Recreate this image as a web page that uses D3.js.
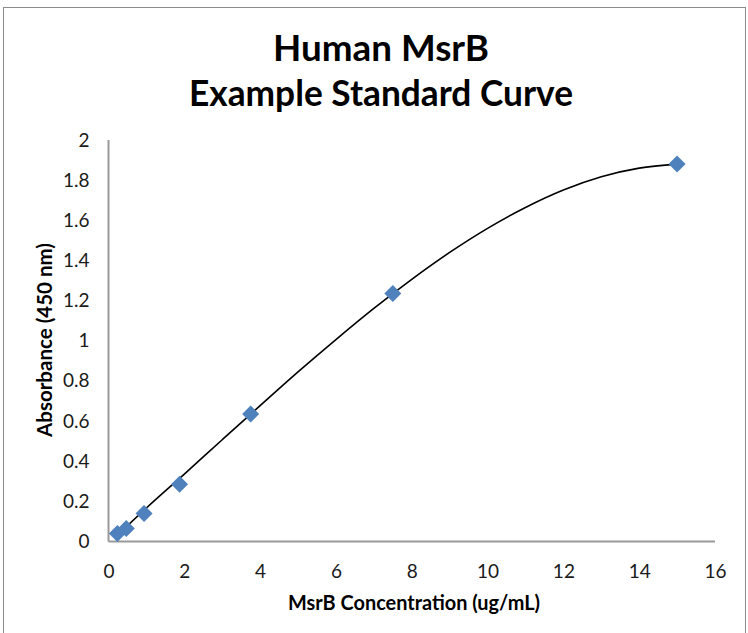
<!DOCTYPE html>
<html><head><meta charset="utf-8">
<script src="https://cdn.jsdelivr.net/npm/d3@7"></script>
<style>body{margin:0;background:#fff}svg{display:block}</style>
</head><body>
<script>
const concentrations = [0.234, 0.469, 0.938, 1.875, 3.75, 7.5, 15];
const absorbances = [0.04, 0.065, 0.14, 0.285, 0.635, 1.235, 1.88];
const curveX = [0.23, 1, 2, 3, 4, 5, 6, 7, 8, 9, 10, 11, 12, 13, 14, 15];
const curveY = [0.03, 0.167, 0.336, 0.507, 0.677, 0.845, 1.006, 1.161, 1.306, 1.44, 1.56, 1.664, 1.751, 1.817, 1.86, 1.88];
const xTicks = [0, 2, 4, 6, 8, 10, 12, 14, 16];
const yTicks = [0, 0.2, 0.4, 0.6, 0.8, 1, 1.2, 1.4, 1.6, 1.8, 2];
const titleLines = ["Human MsrB", "Example Standard Curve"];
const xTitle = "MsrB Concentration (ug/mL)";
const yTitle = "Absorbance  (450 nm)";

const W = 748, H = 633;
const svg = d3.select("body").append("svg").attr("width", W).attr("height", H);
const font = "Lato, 'Open Sans', sans-serif";

svg.append("rect").attr("x", 3.5).attr("y", 7.5).attr("width", 742).attr("height", 640)
  .attr("fill", "#fff").attr("stroke", "#8c8c8c").attr("stroke-width", 1);

const x = d3.scaleLinear().domain([0, 16]).range([108.5, 715]);
const y = d3.scaleLinear().domain([0, 2]).range([541.5, 140]);

// fit a text element's font size to a target width
function fitWidth(sel, target, start) {
  sel.attr("font-size", start);
  const w = sel.node().getComputedTextLength();
  sel.attr("font-size", (start * target / w).toFixed(2));
}

// axes
const gx = svg.append("g").attr("transform", `translate(0,${y(0)})`)
  .call(d3.axisBottom(x).tickValues(xTicks).tickSize(0).tickPadding(23).tickFormat(d3.format("d")));
const gy = svg.append("g").attr("transform", `translate(${x(0)},0)`)
  .call(d3.axisLeft(y).tickValues(yTicks).tickSize(0).tickPadding(19).tickFormat(d => String(+d.toFixed(1))));
[gx, gy].forEach(g => {
  g.select(".domain").attr("stroke", "#999").attr("stroke-width", 2);
  g.selectAll("text").attr("font-family", font).attr("font-size", 19).attr("fill", "#1a1a1a");
});
gy.select(".domain").attr("d", `M0,${y(2)}V${y(0)}`);
gx.select(".domain").attr("d", `M${x(0)},0H${x(16)}`);

// curve
const pts = curveX.map((d, i) => [d, curveY[i]]);
svg.append("path").datum(pts)
  .attr("d", d3.line().x(d => x(d[0])).y(d => y(d[1])).curve(d3.curveMonotoneX))
  .attr("fill", "none").attr("stroke", "#000").attr("stroke-width", 1.6);

// points
const sym = d3.symbol().type(d3.symbolSquare).size(145);
svg.append("g").selectAll("path").data(concentrations).join("path")
  .attr("d", sym)
  .attr("transform", (d, i) => `translate(${x(d)},${y(absorbances[i])}) rotate(45)`)
  .attr("fill", "#4f81bd");

// titles
const titleWidths = [216, 384];
svg.append("g").selectAll("text").data(titleLines).join("text")
  .attr("x", 381).attr("y", (d, i) => 61 + i * 45)
  .attr("text-anchor", "middle").attr("font-family", font).attr("font-weight", "bold")
  .attr("fill", "#000").text(d => d)
  .each(function(d, i) { fitWidth(d3.select(this), titleWidths[i], 30); });

const xt = svg.append("text").attr("x", 414).attr("y", 610).attr("text-anchor", "middle")
  .attr("font-family", font).attr("font-weight", "bold").text(xTitle);
fitWidth(xt, 252, 16);

const yt = svg.append("text").attr("transform", "translate(52,340) rotate(-90)").attr("text-anchor", "middle")
  .attr("font-family", font).attr("font-weight", "bold").text(yTitle);
fitWidth(yt, 194, 16);
</script>
</body></html>
